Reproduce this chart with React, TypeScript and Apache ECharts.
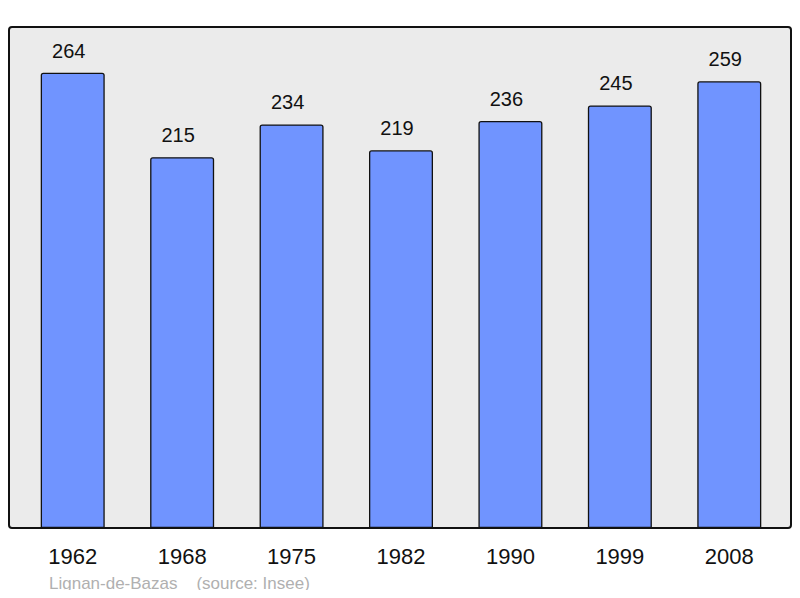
import { useEffect, useRef } from 'react';
import * as echarts from 'echarts';

const years = ['1962', '1968', '1975', '1982', '1990', '1999', '2008'];
const population = [264, 215, 234, 219, 236, 245, 259];

export default function App() {
  const ref = useRef<HTMLDivElement | null>(null);

  useEffect(() => {
    if (!ref.current) return;
    const chart = echarts.init(ref.current, null, { renderer: 'svg' });

    chart.setOption({
      animation: false,
      grid: { top: 10.6, bottom: 70, left: 18, right: 16 },
      graphic: [
        {
          type: 'rect',
          z: -10,
          shape: { x: 9, y: 27, width: 782, height: 501, r: 3 },
          style: { fill: '#ebebeb', stroke: '#111', lineWidth: 2 },
        },
        {
          type: 'text',
          left: 49,
          top: 575,
          style: {
            text: 'Lignan-de-Bazas    (source: Insee)',
            fill: '#b0b0b0',
            font: '17px "Liberation Sans", Arial, sans-serif',
          },
        },
      ],
      xAxis: {
        type: 'category',
        data: years,
        axisLine: { show: false },
        axisTick: { show: false },
        axisLabel: {
          color: '#111',
          fontSize: 22,
          fontFamily: '"Liberation Sans", Arial, sans-serif',
          margin: 17,
        },
      },
      yAxis: {
        type: 'value',
        min: 0,
        max: 300,
        show: false,
        splitLine: { show: false },
      },
      series: [
        {
          type: 'bar',
          data: population,
          barWidth: 64,
          itemStyle: {
            color: '#7094ff',
            borderColor: '#111',
            borderWidth: 1.3,
            borderRadius: [2, 2, 0, 0],
          },
          label: {
            show: true,
            position: 'top',
            distance: 12,
            offset: [-4, 0],
            color: '#111',
            fontSize: 20,
            fontFamily: '"Liberation Sans", Arial, sans-serif',
          },
        },
      ],
    });

    return () => chart.dispose();
  }, []);

  return <div ref={ref} style={{ width: 800, height: 598, margin: -8 }} />;
}
